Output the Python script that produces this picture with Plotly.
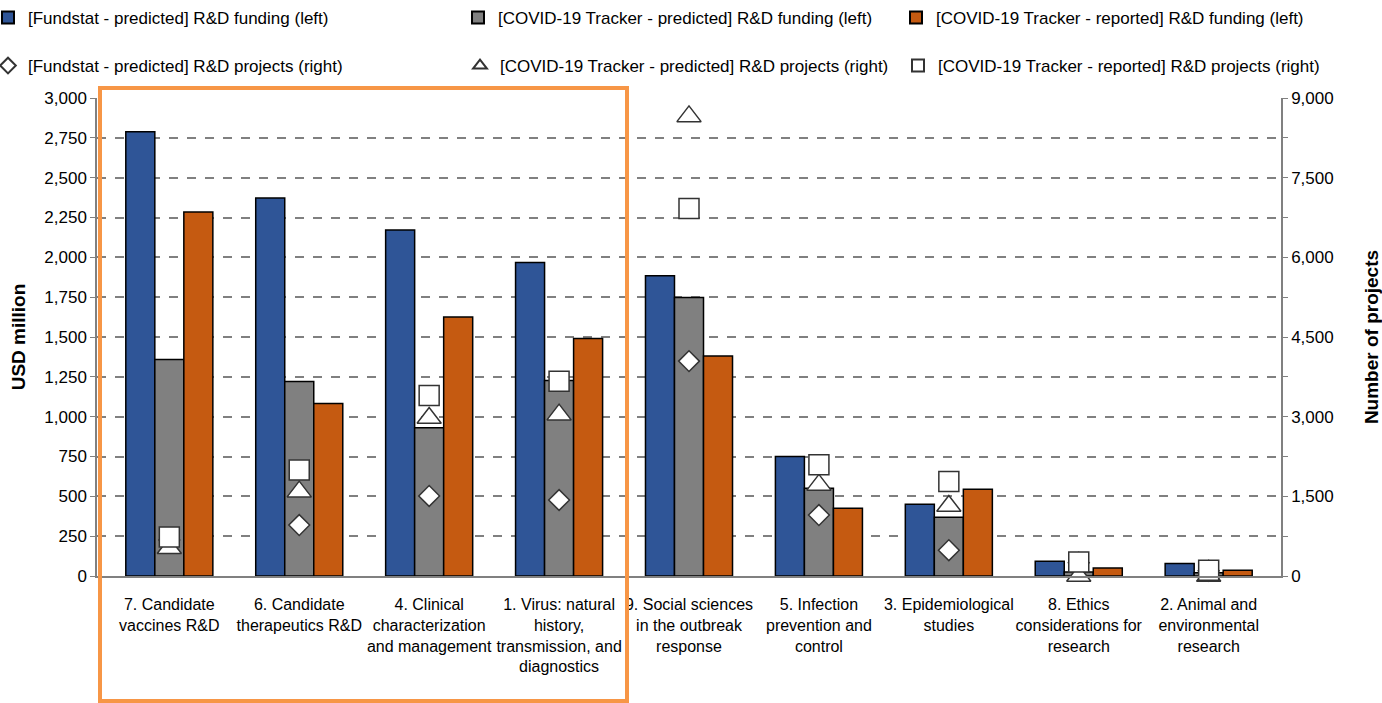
import plotly.graph_objects as go

categories = [
    "7. Candidate<br>vaccines R&D",
    "6. Candidate<br>therapeutics R&D",
    "4. Clinical<br>characterization<br>and management",
    "1. Virus: natural<br>history,<br>transmission, and<br>diagnostics",
    "9. Social sciences<br>in the outbreak<br>response",
    "5. Infection<br>prevention and<br>control",
    "3. Epidemiological<br>studies",
    "8. Ethics<br>considerations for<br>research",
    "2. Animal and<br>environmental<br>research",
]

fundstat_funding = [2788, 2372, 2172, 1968, 1884, 750, 450, 93, 78]
tracker_pred_funding = [1359, 1221, 931, 1227, 1748, 551, 368, 25, 21]
tracker_rep_funding = [2284, 1082, 1626, 1490, 1380, 425, 545, 50, 36]

fundstat_projects = [680, 959, 1507, 1431, 4046, 1148, 486, 250, 100]
tracker_pred_projects = [524, 1588, 2976, 3038, 8654, 1715, 1318, 0, 0]
tracker_rep_projects = [732, 1998, 3398, 3668, 6918, 2093, 1777, 265, 108]

left_ticks = list(range(0, 3001, 250))
right_ticks = list(range(0, 9001, 750))
right_ticktext = [f"{v:,}" if v % 1500 == 0 else "" for v in right_ticks]

FONT = "Liberation Sans, Arial, sans-serif"

fig = go.Figure()

bar_specs = [
    ("[Fundstat - predicted] R&D funding (left)", fundstat_funding, "#2F5597", "legend"),
    ("[COVID-19 Tracker - predicted] R&D funding (left)", tracker_pred_funding, "#808080", "legend2"),
    ("[COVID-19 Tracker - reported] R&D funding (left)", tracker_rep_funding, "#C55A11", "legend3"),
]
for name, vals, col, lg in bar_specs:
    fig.add_trace(go.Bar(
        x=categories, y=vals, name=name, legend=lg,
        marker=dict(color=col, line=dict(color="#000000", width=1.5)),
        yaxis="y",
    ))

mk_specs = [
    ("[Fundstat - predicted] R&D projects (right)", fundstat_projects, "diamond", 16, "legend4"),
    ("[COVID-19 Tracker - predicted] R&D projects (right)", tracker_pred_projects, "triangle-up", 21, "legend5"),
    ("[COVID-19 Tracker - reported] R&D projects (right)", tracker_rep_projects, "square", 20, "legend6"),
]
for name, vals, sym, sz, lg in mk_specs:
    fig.add_trace(go.Scatter(
        x=categories, y=vals, name=name, legend=lg, mode="markers",
        marker=dict(symbol=sym, size=sz, color="#FFFFFF", line=dict(color="#333333", width=1.5)),
        yaxis="y2", cliponaxis=False,
    ))

W, H = 1382, 703
L, R, T, B = 97, 101, 98, 127
pw, ph = W - L - R, H - T - B

def px_x(px):
    return (px - L) / pw

def px_y(py):
    return (H - B - py) / ph

legend_pos = [
    ("legend", 0, 18), ("legend2", 470, 18), ("legend3", 908, 18),
    ("legend4", 0, 66), ("legend5", 472, 66), ("legend6", 910, 66),
]
leg_layout = {}
for key, x0, y0 in legend_pos:
    leg_layout[key] = dict(
        x=px_x(x0 - 12), y=px_y(y0), xanchor="left", yanchor="middle",
        orientation="h", bgcolor="rgba(0,0,0,0)", borderwidth=0,
        font=dict(family=FONT, size=17, color="#000000"),
        itemwidth=30, itemsizing="constant",
    )

fig.update_layout(
    width=W, height=H,
    margin=dict(l=L, r=R, t=T, b=B, autoexpand=False),
    paper_bgcolor="#FFFFFF", plot_bgcolor="#FFFFFF",
    barmode="group", bargap=0.33, bargroupgap=0,
    showlegend=True,
    xaxis=dict(
        type="category", showgrid=False, showline=True, linecolor="#808080", linewidth=1.5,
        ticks="", tickangle=0, tickfont=dict(family=FONT, size=16, color="#000000"),
        ticklabelstandoff=13,
    ),
    yaxis=dict(
        range=[0, 3000], tickvals=left_ticks, tickformat=",",
        showgrid=True, gridcolor="#808080", griddash="dash", gridwidth=1.5,
        showline=True, linecolor="#808080", linewidth=1.5,
        ticks="outside", ticklen=5, tickcolor="#808080",
        tickfont=dict(family=FONT, size=17, color="#000000"),
        zeroline=False,
        title=dict(text="<b>USD million</b>", font=dict(family=FONT, size=19, color="#000000"), standoff=14),
    ),
    yaxis2=dict(
        range=[0, 9000], tickvals=right_ticks, ticktext=right_ticktext,
        overlaying="y", side="right", showgrid=False,
        showline=True, linecolor="#808080", linewidth=1.5,
        ticks="outside", ticklen=5, tickcolor="#808080",
        tickfont=dict(family=FONT, size=17, color="#000000"),
        zeroline=False,
        title=dict(text="<b>Number of projects</b>", font=dict(family=FONT, size=19, color="#000000"), standoff=32),
    ),
    shapes=[dict(
        type="rect", xref="paper", yref="paper",
        x0=px_x(100), x1=px_x(627), y0=px_y(701), y1=px_y(88),
        line=dict(color="#F79646", width=4), fillcolor="rgba(0,0,0,0)", layer="above",
    )],
    **leg_layout,
)

fig.write_html("out.html")
